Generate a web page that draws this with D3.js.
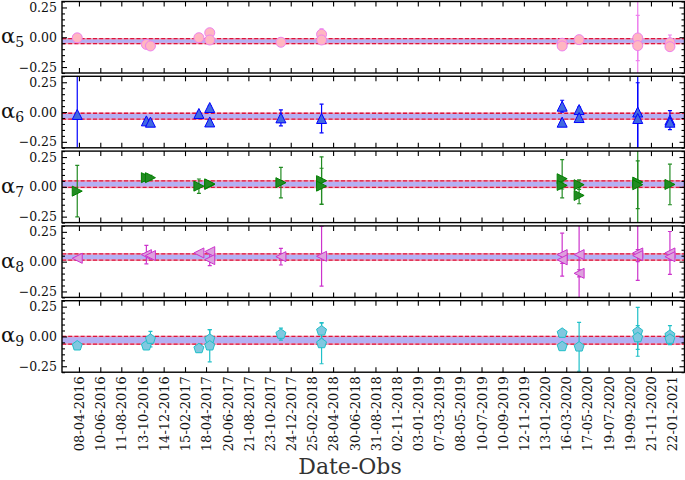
<!DOCTYPE html>
<html><head><meta charset="utf-8">
<script src="https://cdn.jsdelivr.net/npm/d3@7"></script>
<style>body{margin:0;background:#fff}svg{display:block}</style>
</head><body><svg id="c" width="685" height="480"></svg>
<script>
// ---------- data ----------
const tickLabels = ["08-04-2016","10-06-2016","11-08-2016","13-10-2016","14-12-2016","15-02-2017","18-04-2017","20-06-2017","21-08-2017","23-10-2017","24-12-2017","25-02-2018","28-04-2018","30-06-2018","31-08-2018","02-11-2018","03-01-2019","07-03-2019","08-05-2019","10-07-2019","10-09-2019","12-11-2019","13-01-2020","16-03-2020","17-05-2020","19-07-2020","19-09-2020","21-11-2020","22-01-2021"];
const xLimits = ["18-02-2016","28-02-2021"];
const obsDates = ["03-04-2016","24-10-2016","05-11-2016","28-03-2017","29-04-2017","25-11-2017","25-03-2018","04-03-2020","23-04-2020","13-10-2020","16-01-2021"];
const seriesNames = ["5","6","7","8","9"];
// each point: [observation index, value, error]
const alpha5 = [[0,-0.005,0.012],[1,-0.06,0.01],[2,-0.073,0.01],[3,-0.004,0.012],[4,0.038,0.015],[4,-0.023,0.012],[5,-0.042,0.01],[6,0.025,0.045],[6,-0.023,0.02],[7,-0.05,0.015],[7,-0.073,0.012],[8,-0.02,0.012],[9,-0.006,0.19],[9,-0.07,0.5],[10,-0.046,0.065],[10,-0.079,0.03]];
const alpha6 = [[0,-0.02,0.5],[1,-0.074,0.01],[2,-0.085,0.01],[3,-0.012,0.015],[4,0.038,0.015],[4,-0.083,0.02],[5,-0.049,0.067],[6,-0.054,0.12],[7,0.049,0.05],[7,-0.085,0.015],[8,0.021,0.02],[8,-0.046,0.03],[9,0.0,0.5],[9,-0.054,0.3],[10,-0.068,0.08],[10,-0.085,0.02]];
const alpha7 = [[0,-0.036,0.216],[1,0.077,0.03],[2,0.077,0.02],[3,0.006,0.06],[4,0.02,0.015],[4,0.025,0.01],[5,0.035,0.128],[6,0.052,0.2],[6,0.006,0.15],[7,0.068,0.16],[7,0.012,0.03],[8,0.018,0.04],[8,-0.072,0.07],[9,0.04,0.5],[9,0.018,0.2],[10,0.02,0.17]];
const alpha8 = [[0,0.028,0.01],[1,0.059,0.077],[2,0.051,0.02],[3,0.073,0.01],[4,0.084,0.01],[4,0.017,0.05],[5,0.042,0.07],[6,0.045,0.25],[7,0.059,0.18],[7,0.015,0.03],[8,0.059,0.45],[8,-0.098,0.03],[9,0.073,0.23],[9,0.051,0.05],[10,0.073,0.18],[10,0.042,0.03]];
const alpha9 = [[0,-0.078,0.01],[1,-0.078,0.01],[2,-0.022,0.065],[3,-0.101,0.03],[4,-0.022,0.08],[4,-0.078,0.135],[5,0.02,0.05],[6,0.047,0.07],[6,-0.059,0.17],[7,0.028,0.02],[7,-0.084,0.02],[8,-0.087,0.205],[9,0.039,0.205],[9,-0.009,0.1],[10,0.011,0.08],[10,-0.022,0.03]];
const bandLow  = [-0.053,-0.06,-0.004,0.013,-0.064];
const bandHigh = [-0.012,-0.01,0.05,0.065,0.0];
const yMajor = [-0.25,0,0.25];
const yMinor = [-0.3,-0.2,-0.15,-0.1,-0.05,0.05,0.1,0.15,0.2,0.3];
const yLimits = [-0.3,0.3];

// ---------- styles ----------
const styles = [
  {marker:"circle", fill:"#ffb6c1", stroke:"#ee82ee", err:"#ee82ee"},
  {marker:"up",     fill:"#4169e1", stroke:"#0000ff", err:"#0000ff"},
  {marker:"right",  fill:"#228b22", stroke:"#008000", err:"#228b22"},
  {marker:"left",   fill:"#dda0dd", stroke:"#cc33cc", err:"#cc33cc"},
  {marker:"pent",   fill:"#80c8e0", stroke:"#20c0c8", err:"#20c0c8"}
];
const series = [alpha5, alpha6, alpha7, alpha8, alpha9];

const W = 685, H = 480;
const left = 62, right = 684.5, top0 = 1.5, pitch = 74.8, ph = 71.5;
const FONT = "'DejaVu Serif', serif";

const parse = d3.utcParse("%d-%m-%Y");
const fmt = d3.utcFormat("%d-%m-%Y");
const x = d3.scaleUtc().domain(xLimits.map(parse)).range([left, right]);
const tickDates = tickLabels.map(parse);
const obs = obsDates.map(parse);

const shapes = {
  circle:{draw(c,s){const r=Math.sqrt(s)/2;c.moveTo(r,0);c.arc(0,0,r,0,2*Math.PI);c.closePath();}},
  up:{draw(c,s){const h=Math.sqrt(s)/2;c.moveTo(0,-h);c.lineTo(h,h);c.lineTo(-h,h);c.closePath();}},
  right:{draw(c,s){const h=Math.sqrt(s)/2;c.moveTo(h,0);c.lineTo(-h,-h);c.lineTo(-h,h);c.closePath();}},
  left:{draw(c,s){const h=Math.sqrt(s)/2;c.moveTo(-h,0);c.lineTo(h,-h);c.lineTo(h,h);c.closePath();}},
  pent:{draw(c,s){const r=Math.sqrt(s)/2;for(let k=0;k<5;k++){const a=Math.PI/2+k*2*Math.PI/5;const px=r*Math.cos(a),py=-r*Math.sin(a);k?c.lineTo(px,py):c.moveTo(px,py);}c.closePath();}}
};
const markerSize = {circle:100, up:100, right:100, left:100, pent:110};

const svg = d3.select("#c");
svg.append("rect").attr("width",W).attr("height",H).attr("fill","#fff");
const defs = svg.append("defs");

series.forEach((data, i) => {
  const top = top0 + i*pitch, bottom = top + ph;
  const y = d3.scaleLinear().domain(yLimits).range([bottom, top]);
  const st = styles[i];
  const g = svg.append("g");
  defs.append("clipPath").attr("id","clip"+i).append("rect")
    .attr("x",left).attr("y",top).attr("width",right-left).attr("height",ph);
  const pg = g.append("g").attr("clip-path",`url(#clip${i})`);

  // band
  pg.append("rect").attr("x",left).attr("width",right-left)
    .attr("y",y(bandHigh[i])).attr("height",y(bandLow[i])-y(bandHigh[i]))
    .attr("fill","#b4b0f4");
  [bandLow[i], bandHigh[i]].forEach(v => {
    pg.append("line").attr("x1",left).attr("x2",right).attr("y1",y(v)).attr("y2",y(v))
      .attr("stroke","#f4a3b8").attr("stroke-width",1.6);
    pg.append("line").attr("x1",left).attr("x2",right).attr("y1",y(v)).attr("y2",y(v))
      .attr("stroke","#dc143c").attr("stroke-width",1.3).attr("stroke-dasharray","4,2.2");
  });

  // error bars
  const eb = pg.append("g").attr("stroke",st.err).attr("stroke-width",1.2);
  data.forEach(d => {
    const cx = x(obs[d[0]]);
    eb.append("line").attr("x1",cx).attr("x2",cx).attr("y1",y(d[1]+d[2])).attr("y2",y(d[1]-d[2]));
    [d[1]+d[2], d[1]-d[2]].forEach(v => eb.append("line").attr("x1",cx-2).attr("x2",cx+2).attr("y1",y(v)).attr("y2",y(v)));
  });

  // markers
  const sym = d3.symbol().type(shapes[st.marker]).size(markerSize[st.marker]);
  pg.append("g").selectAll("path").data(data).join("path")
    .attr("transform", d => `translate(${x(obs[d[0]])},${y(d[1])})`)
    .attr("d", sym).attr("fill",st.fill).attr("stroke",st.stroke).attr("stroke-width",1);

  // axes
  const styleAxis = a => { a.select(".domain").remove(); a.selectAll("line").attr("stroke","#000").attr("stroke-width",1.1); a.selectAll("text").attr("font-family",FONT).attr("fill","#111"); };
  g.append("g").attr("transform",`translate(${left},0)`)
    .call(d3.axisLeft(y).tickValues(yMajor).tickSize(-5).tickPadding(5).tickFormat(d3.format(".2f")))
    .call(styleAxis).call(a => a.selectAll("text").attr("font-size",12.5));
  g.append("g").attr("transform",`translate(${left},0)`)
    .call(d3.axisLeft(y).tickValues(yMinor).tickSize(-3).tickFormat("")).call(styleAxis);
  g.append("g").attr("transform",`translate(${right},0)`)
    .call(d3.axisRight(y).tickValues(yMajor).tickSize(-5).tickFormat("")).call(styleAxis);
  g.append("g").attr("transform",`translate(${right},0)`)
    .call(d3.axisRight(y).tickValues(yMinor).tickSize(-3).tickFormat("")).call(styleAxis);
  g.append("g").attr("transform",`translate(0,${top})`)
    .call(d3.axisTop(x).tickValues(tickDates).tickSize(-5).tickFormat("")).call(styleAxis);
  const bx = g.append("g").attr("transform",`translate(0,${bottom})`)
    .call(d3.axisBottom(x).tickValues(tickDates).tickSize(-5).tickFormat(i === 4 ? fmt : () => ""))
    .call(styleAxis);
  if (i === 4) {
    bx.selectAll("text").attr("transform","rotate(-90)").attr("x",-4).attr("y",0)
      .attr("dy","0.36em").attr("text-anchor","end").attr("font-size",13);
  }

  // frame
  g.append("rect").attr("x",left).attr("y",top).attr("width",right-left).attr("height",ph)
    .attr("fill","none").attr("stroke","#000").attr("stroke-width",1.4);

  // series label
  const t = g.append("text").attr("x",1).attr("y",y(0)+6).attr("font-family",FONT)
    .attr("font-size",21).attr("fill","#111");
  t.append("tspan").text("α");
  t.append("tspan").attr("font-size",14).attr("dy",4).text(seriesNames[i]);
});

svg.append("text").attr("x",350).attr("y",474).attr("text-anchor","middle")
  .attr("font-family",FONT).attr("font-size",22).attr("fill","#333").text("Date-Obs");
</script></body></html>
